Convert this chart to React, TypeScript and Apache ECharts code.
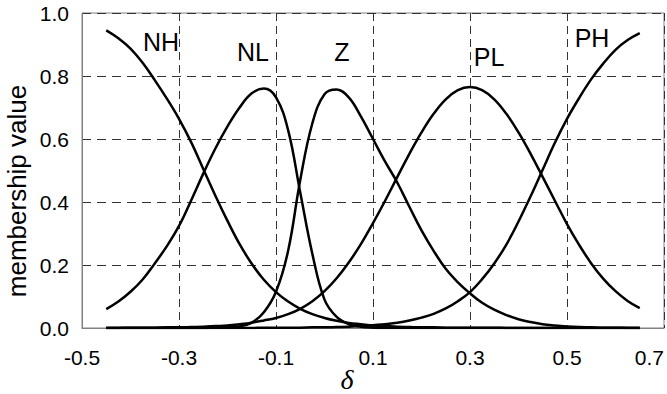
import React, { useEffect, useRef } from "react";
import * as echarts from "echarts";

// δ sample positions (x axis)
const deltaValues = [
  -0.45, -0.425, -0.4, -0.375, -0.35, -0.325, -0.3, -0.275, -0.25, -0.225,
  -0.2, -0.175, -0.15, -0.125, -0.1, -0.075, -0.05, -0.025, 0.0, 0.025,
  0.05, 0.075, 0.1, 0.125, 0.15, 0.175, 0.2, 0.225, 0.25, 0.275,
  0.3, 0.325, 0.35, 0.375, 0.4, 0.425, 0.45, 0.475, 0.5, 0.525,
  0.55, 0.575, 0.6, 0.625, 0.65,
];

const nhValues = [
  0.945, 0.92, 0.887, 0.842, 0.787, 0.728, 0.664, 0.59, 0.505, 0.42,
  0.34, 0.266, 0.204, 0.153, 0.114, 0.084, 0.061, 0.044, 0.032, 0.023,
  0.016, 0.012, 0.008, 0.006, 0.004, 0.003, 0.002, 0.002, 0.001, 0.001,
  0.001, 0.001, 0.001, 0, 0, 0, 0, 0, 0, 0,
  0, 0, 0, 0, 0,
];

const nlValues = [
  0.06, 0.084, 0.115, 0.154, 0.205, 0.26, 0.324, 0.405, 0.49, 0.57,
  0.64, 0.7, 0.745, 0.76, 0.732, 0.628, 0.43, 0.235, 0.09, 0.035,
  0.012, 0.004, 0.001, 0, 0, 0, 0, 0, 0, 0,
  0, 0, 0, 0, 0, 0, 0, 0, 0, 0,
  0, 0, 0, 0, 0,
];

const zValues = [
  0, 0, 0, 0, 0, 0, 0, 0, 0, 0.001,
  0.002, 0.005, 0.017, 0.05, 0.115, 0.245, 0.47, 0.65, 0.742, 0.757,
  0.732, 0.672, 0.6, 0.528, 0.462, 0.385, 0.31, 0.245, 0.188, 0.145,
  0.11, 0.08, 0.058, 0.041, 0.028, 0.019, 0.012, 0.008, 0.005, 0.003,
  0.002, 0.001, 0.001, 0, 0,
];

const plValues = [
  0, 0, 0.001, 0.001, 0.001, 0.002, 0.002, 0.003, 0.004, 0.006,
  0.008, 0.012, 0.017, 0.024, 0.032, 0.044, 0.061, 0.085, 0.117, 0.158,
  0.208, 0.266, 0.333, 0.404, 0.479, 0.553, 0.621, 0.68, 0.726, 0.755,
  0.765, 0.755, 0.726, 0.68, 0.621, 0.553, 0.479, 0.404, 0.33, 0.264,
  0.205, 0.156, 0.117, 0.086, 0.063,
];

const phValues = [
  0, 0, 0, 0, 0, 0, 0, 0, 0, 0,
  0, 0, 0, 0.001, 0.001, 0.001, 0.001, 0.002, 0.002, 0.003,
  0.004, 0.006, 0.009, 0.012, 0.017, 0.024, 0.033, 0.045, 0.062, 0.085,
  0.114, 0.155, 0.205, 0.265, 0.338, 0.418, 0.503, 0.588, 0.664, 0.73,
  0.79, 0.84, 0.883, 0.914, 0.936,
];

const setNames = ["NH", "NL", "Z", "PL", "PH"];
const setValues = [nhValues, nlValues, zValues, plValues, phValues];

const xAxisMin = -0.5;
const xAxisMax = 0.7;
const xAxisStep = 0.2;
const yAxisMin = 0;
const yAxisMax = 1;
const yAxisStep = 0.2;

const yTitle = "membership value";
const xTitle = "δ";

const SANS = '"Liberation Sans", Arial, sans-serif';
const SERIF = '"Liberation Serif", "Times New Roman", serif';

// label anchor points (pixels) for set names
const labelSpots: Record<string, [number, number]> = {
  NH: [161, 42],
  NL: [253, 52],
  Z: [342, 52],
  PL: [489, 57],
  PH: [592, 38],
};

export default function App() {
  const ref = useRef<HTMLDivElement>(null);

  useEffect(() => {
    if (!ref.current) return;
    const chart = echarts.init(ref.current, null, { renderer: "svg" });

    const series = setNames.map((name, k) => ({
      name,
      type: "line",
      data: deltaValues.map((x, i) => [x, setValues[k][i]]),
      smooth: 0.4,
      showSymbol: false,
      symbol: "none",
      lineStyle: { color: "#000", width: 2.5 },
      z: 3,
    }));

    const grid = "#333";

    chart.setOption({
      animation: false,
      backgroundColor: "#fff",
      grid: {
        left: 82,
        top: 13,
        right: 1,
        bottom: 66,
        show: true,
        borderColor: "#808080",
        borderWidth: 1,
      },
      xAxis: {
        type: "value",
        min: xAxisMin,
        max: xAxisMax,
        interval: xAxisStep,
        axisLine: { show: true, onZero: false, lineStyle: { color: "#808080", width: 1 } },
        axisTick: { show: false },
        splitLine: {
          show: true,
          lineStyle: { color: grid, width: 1, type: [8, 5] },
        },
        axisLabel: {
          color: "#000",
          fontSize: 21,
          fontFamily: SANS,
          margin: 19,
          alignMaxLabel: "right",
          formatter: (v: number) => v.toFixed(1),
        },
      },
      yAxis: {
        type: "value",
        min: yAxisMin,
        max: yAxisMax,
        interval: yAxisStep,
        axisLine: { show: true, onZero: false, lineStyle: { color: "#808080", width: 1 } },
        axisTick: { show: false },
        splitLine: {
          show: true,
          lineStyle: { color: grid, width: 1, type: [9, 6] },
        },
        axisLabel: {
          color: "#000",
          fontSize: 21,
          fontFamily: SANS,
          margin: 13,
          formatter: (v: number) => v.toFixed(1),
        },
      },
      series,
      graphic: [
        ...setNames.map((name) => ({
          type: "text",
          x: labelSpots[name][0],
          y: labelSpots[name][1],
          z: 10,
          style: {
            text: name,
            fill: "#000",
            fontSize: 25,
            fontFamily: SANS,
            align: "center",
            verticalAlign: "middle",
          },
        })),
        {
          type: "text",
          x: 17,
          y: 191,
          rotation: Math.PI / 2,
          style: {
            text: yTitle,
            fill: "#000",
            fontSize: 26,
            fontFamily: SANS,
            align: "center",
            verticalAlign: "middle",
          },
        },
        {
          type: "text",
          x: 347,
          y: 379,
          style: {
            text: xTitle,
            fill: "#000",
            fontSize: 28,
            fontStyle: "italic",
            fontFamily: SERIF,
            align: "center",
            verticalAlign: "middle",
          },
        },
      ],
    });

    return () => chart.dispose();
  }, []);

  return (
    <div
      ref={ref}
      style={{
        position: "fixed",
        left: 0,
        top: 0,
        width: 667,
        height: 394,
        background: "#fff",
      }}
    />
  );
}
